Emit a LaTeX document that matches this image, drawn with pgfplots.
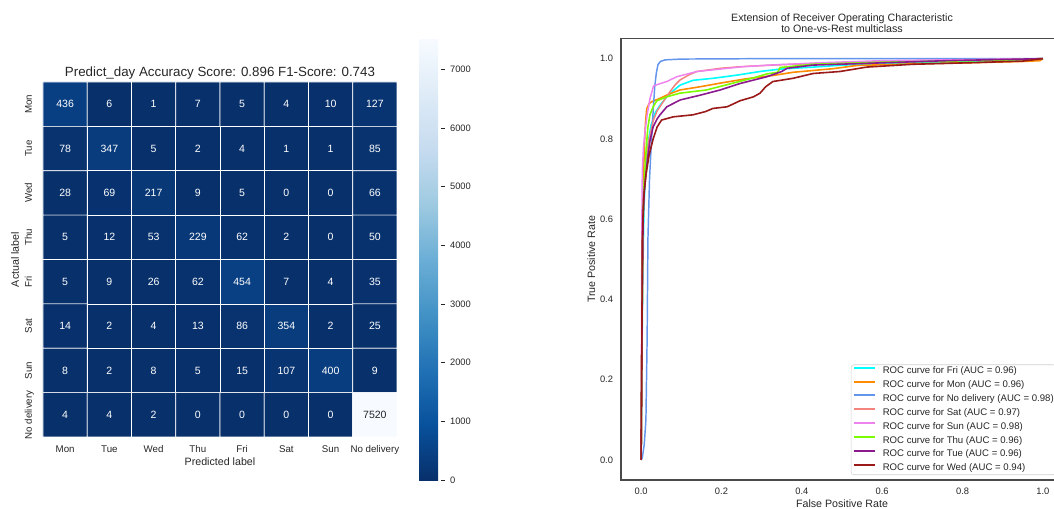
\documentclass[border=0pt]{standalone}
\usepackage{fontspec}
\setmainfont{Liberation Sans}
\usepackage{pgfplots}
\usepackage{pgfplotstable}
\pgfplotsset{compat=1.18}

\definecolor{txt}{HTML}{262626}
\definecolor{frame}{HTML}{4A4A4A}
\definecolor{legframe}{HTML}{D0D0D0}
\definecolor{rocfri}{HTML}{00FFFF}
\definecolor{rocmon}{HTML}{FF8C00}
\definecolor{rocnodel}{HTML}{6495ED}
\definecolor{rocsat}{HTML}{F4837D}
\definecolor{rocsun}{HTML}{EE82EE}
\definecolor{rocthu}{HTML}{7CFC00}
\definecolor{roctue}{HTML}{8B1A8F}
\definecolor{rocwed}{HTML}{9A1A1A}

% confusion matrix: x = predicted, y = actual (0 = Mon ... 7 = No delivery)
\pgfplotstableread{
x y c
0 0 436
1 0 6
2 0 1
3 0 7
4 0 5
5 0 4
6 0 10
7 0 127
0 1 78
1 1 347
2 1 5
3 1 2
4 1 4
5 1 1
6 1 1
7 1 85
0 2 28
1 2 69
2 2 217
3 2 9
4 2 5
5 2 0
6 2 0
7 2 66
0 3 5
1 3 12
2 3 53
3 3 229
4 3 62
5 3 2
6 3 0
7 3 50
0 4 5
1 4 9
2 4 26
3 4 62
4 4 454
5 4 7
6 4 4
7 4 35
0 5 14
1 5 2
2 5 4
3 5 13
4 5 86
5 5 354
6 5 2
7 5 25
0 6 8
1 6 2
2 6 8
3 6 5
4 6 15
5 6 107
6 6 400
7 6 9
0 7 4
1 7 4
2 7 2
3 7 0
4 7 0
5 7 0
6 7 0
7 7 7520
}\confmat

\begin{document}
\begin{tikzpicture}
\useasboundingbox (0,0) rectangle (790.5pt,381.75pt);

% ---------------- confusion matrix ----------------
\begin{axis}[
  at={(32.25pt,54pt)}, anchor=south west,
  scale only axis, width=265.5pt, height=266.25pt,
  xmin=-0.5, xmax=7.5, ymin=-0.5, ymax=7.5,
  y dir=reverse, enlargelimits=false,
  colormap={bluesr}{rgb255=(8,48,107) rgb255=(8,81,156) rgb255=(33,113,181)
    rgb255=(66,146,198) rgb255=(107,174,214) rgb255=(158,202,225)
    rgb255=(198,219,239) rgb255=(222,235,247) rgb255=(247,251,255)},
  point meta min=0, point meta max=7520,
  axis line style={draw=none},
  tick style={draw=none},
  xtick={0,...,7}, ytick={0,...,7},
  xticklabels={Mon,Tue,Wed,Thu,Fri,Sat,Sun,No delivery},
  yticklabels={Mon,Tue,Wed,Thu,Fri,Sat,Sun,No delivery},
  xticklabel style={anchor=base, inner sep=0pt, yshift=-11.8pt,
    font=\fontsize{7.3}{8}\selectfont, text=txt},
  yticklabel style={xshift=-8.25pt, rotate=90, anchor=base, inner sep=0pt,
    font=\fontsize{7.3}{8}\selectfont, text=txt},
  every axis title/.style={at={(axis description cs:0.5,1.0141)}, anchor=base,
    inner sep=0pt, font=\fontsize{10}{12}\selectfont, text=txt},
  title={Predict\_day Accuracy Score: 0.896 F1-Score: 0.743},
  every axis x label/.style={at={(axis description cs:0.5,-0.0817)}, anchor=base,
    inner sep=0pt, font=\fontsize{8}{9}\selectfont, text=txt},
  every axis y label/.style={at={(axis description cs:-0.068,0.5)}, rotate=90,
    anchor=base, inner sep=0pt, font=\fontsize{8}{9}\selectfont, text=txt},
  xlabel={Predicted label},
  ylabel={Actual label},
  colorbar,
  colorbar style={
    at={(parent axis.north east)}, anchor=north west,
    xshift=8pt, yshift=32.25pt,
    scale only axis, width=16.5pt, height=330.75pt,
    ytick={0,1000,2000,3000,4000,5000,6000,7000},
    yticklabels={0,1000,2000,3000,4000,5000,6000,7000},
    ytick pos=right, yticklabel pos=right,
    axis line style={draw=none},
    tick align=outside, major tick length=2.6pt,
    ytick style={draw=txt, line width=0.6pt},
    yticklabel style={font=\fontsize{7}{8}\selectfont, text=txt,
      anchor=west, inner sep=0pt, xshift=4pt},
  },
]
\addplot[matrix plot*, mesh/cols=8, mesh/ordering=x varies,
  point meta=explicit, draw=white, line width=0.55pt]
  table[x=x, y=y, meta=c]{\confmat};
% cell counts on dark cells
\addplot[only marks, mark=none, point meta=explicit symbolic,
  unbounded coords=discard,
  y filter/.expression={\thisrow{c}>3000 ? nan : y},
  nodes near coords={\pgfplotspointmeta},
  nodes near coords style={anchor=center, inner sep=0pt, text=white,
    font=\fontsize{7.9}{9}\selectfont}]
  table[x=x, y=y, meta=c]{\confmat};
% cell counts on light cells
\addplot[only marks, mark=none, point meta=explicit symbolic,
  unbounded coords=discard,
  y filter/.expression={\thisrow{c}>3000 ? y : nan},
  nodes near coords={\pgfplotspointmeta},
  nodes near coords style={anchor=center, inner sep=0pt, text=txt,
    font=\fontsize{7.9}{9}\selectfont}]
  table[x=x, y=y, meta=c]{\confmat};
\end{axis}

% ---------------- ROC curves ----------------
\begin{axis}[
  at={(465.75pt,21.75pt)}, anchor=south west,
  scale only axis, width=331.5pt, height=331.05pt,
  xmin=-0.05, xmax=1.05, ymin=-0.05, ymax=1.05,
  xtick={0,0.2,0.4,0.6,0.8,1}, ytick={0,0.2,0.4,0.6,0.8,1},
  xticklabels={0.0,0.2,0.4,0.6,0.8,1.0},
  yticklabels={0.0,0.2,0.4,0.6,0.8,1.0},
  tick style={draw=none},
  axis line style={draw=frame, line width=0.9pt},
  xticklabel style={anchor=base, inner sep=0pt, yshift=-10.9pt,
    font=\fontsize{7}{8}\selectfont, text=txt},
  yticklabel style={anchor=east, inner sep=0pt, xshift=-5.8pt,
    font=\fontsize{7}{8}\selectfont, text=txt},
  every axis title/.style={at={(axis description cs:0.5,1)}, anchor=south,
    inner sep=0pt, yshift=4.2pt, align=center,
    font=\fontsize{8}{8.4}\selectfont, text=txt},
  title={Extension of Receiver Operating Characteristic\\to One-vs-Rest multiclass},
  every axis x label/.style={at={(axis description cs:0.5,-0.0634)}, anchor=base,
    inner sep=0pt, font=\fontsize{8}{9}\selectfont, text=txt},
  every axis y label/.style={at={(axis description cs:-0.0588,0.5)}, rotate=90,
    anchor=base, inner sep=0pt, font=\fontsize{8}{9}\selectfont, text=txt},
  xlabel={False Positive Rate},
  ylabel={True Positive Rate},
  no markers,
  legend image code/.code={\draw[#1, line width=1.5pt] (0pt,2.6pt) -- (15.75pt,2.6pt);},
  legend cell align=left,
  legend style={at={(0.52,0.0113)}, anchor=south west,
    draw=legframe, rounded corners=2pt, fill=white,
    font=\fontsize{7.2}{8}\selectfont, text=txt,
    nodes={inner sep=0pt, text height=5.6pt, text depth=1.9pt},
    row sep=2.9pt, column sep=5pt, inner xsep=1.5pt, inner ysep=1.1pt},
]
\addplot[draw=rocfri, line width=1.2pt] coordinates {
  (0,0) (0.002,0.25) (0.004,0.45) (0.007,0.62) (0.010,0.70) (0.014,0.76)
  (0.019,0.80) (0.025,0.835) (0.035,0.865) (0.048,0.885) (0.064,0.905)
  (0.080,0.92) (0.097,0.934) (0.129,0.946) (0.179,0.951) (0.239,0.959)
  (0.296,0.968) (0.346,0.974) (0.428,0.979) (0.502,0.984) (0.60,0.987)
  (0.70,0.99) (0.886,0.995) (1,1)};
\addlegendentry{ROC curve for Fri (AUC = 0.96)}
\addplot[draw=rocmon, line width=1.2pt] coordinates {
  (0,0) (0.002,0.3) (0.004,0.55) (0.006,0.7) (0.008,0.78) (0.011,0.84)
  (0.014,0.875) (0.02,0.888) (0.027,0.893) (0.047,0.901) (0.07,0.912)
  (0.097,0.922) (0.147,0.93) (0.197,0.939) (0.263,0.95) (0.328,0.958)
  (0.378,0.966) (0.478,0.975) (0.537,0.983) (0.677,0.987) (0.826,0.99)
  (0.95,0.993) (0.993,0.995) (1,1)};
\addlegendentry{ROC curve for Mon (AUC = 0.96)}
\addplot[draw=rocnodel, line width=1.1pt] coordinates {
  (0,0) (0.003,0.005) (0.008,0.04) (0.012,0.1) (0.015,0.3) (0.017,0.55)
  (0.021,0.7) (0.026,0.8) (0.03,0.87) (0.034,0.93) (0.038,0.965)
  (0.042,0.985) (0.048,0.993) (0.06,0.997) (0.1,0.999) (0.3,1) (1,1)};
\addlegendentry{ROC curve for No delivery (AUC = 0.98)}
\addplot[draw=rocsat, line width=1.1pt] coordinates {
  (0,0) (0.002,0.3) (0.004,0.55) (0.007,0.68) (0.012,0.75) (0.02,0.8)
  (0.03,0.845) (0.04,0.87) (0.05,0.885) (0.06,0.9) (0.072,0.918)
  (0.085,0.935) (0.097,0.947) (0.12,0.96) (0.139,0.968) (0.197,0.976)
  (0.246,0.98) (0.35,0.985) (0.5,0.99) (0.7,0.995) (1,1)};
\addlegendentry{ROC curve for Sat (AUC = 0.97)}
\addplot[draw=rocsun, line width=1.1pt] coordinates {
  (0,0) (0.001,0.3) (0.002,0.6) (0.003,0.72) (0.006,0.78) (0.01,0.82)
  (0.015,0.86) (0.022,0.9) (0.031,0.932) (0.045,0.937) (0.064,0.943)
  (0.089,0.955) (0.139,0.968) (0.197,0.974) (0.254,0.98) (0.32,0.984)
  (0.45,0.99) (0.6,0.995) (1,1)};
\addlegendentry{ROC curve for Sun (AUC = 0.98)}
\addplot[draw=rocthu, line width=1.2pt] coordinates {
  (0,0) (0.002,0.3) (0.004,0.55) (0.007,0.68) (0.01,0.73) (0.013,0.78)
  (0.017,0.83) (0.022,0.86) (0.03,0.88) (0.039,0.895) (0.064,0.905)
  (0.097,0.914) (0.163,0.922) (0.221,0.937) (0.279,0.952) (0.313,0.962)
  (0.34,0.966) (0.346,0.978) (0.428,0.986) (0.595,0.991) (0.893,0.996) (1,1)};
\addlegendentry{ROC curve for Thu (AUC = 0.96)}
\addplot[draw=roctue, line width=1.2pt] coordinates {
  (0,0) (0.002,0.3) (0.005,0.6) (0.008,0.67) (0.012,0.71) (0.016,0.75)
  (0.022,0.795) (0.03,0.83) (0.04,0.85) (0.047,0.86) (0.064,0.88)
  (0.097,0.897) (0.147,0.909) (0.197,0.922) (0.246,0.938) (0.313,0.955)
  (0.35,0.968) (0.363,0.976) (0.428,0.984) (0.552,0.988) (0.761,0.995) (1,1)};
\addlegendentry{ROC curve for Tue (AUC = 0.96)}
\addplot[draw=rocwed, line width=1.2pt] coordinates {
  (0,0) (0.002,0.3) (0.003,0.55) (0.006,0.65) (0.012,0.71) (0.02,0.76)
  (0.03,0.8) (0.04,0.83) (0.051,0.847) (0.08,0.855) (0.129,0.86)
  (0.16,0.868) (0.179,0.876) (0.214,0.88) (0.246,0.895) (0.28,0.905)
  (0.296,0.914) (0.31,0.93) (0.328,0.943) (0.378,0.951) (0.428,0.963)
  (0.495,0.968) (0.562,0.979) (0.677,0.986) (0.826,0.99) (0.95,0.994) (1,1)};
\addlegendentry{ROC curve for Wed (AUC = 0.94)}
\end{axis}
\end{tikzpicture}
\end{document}
